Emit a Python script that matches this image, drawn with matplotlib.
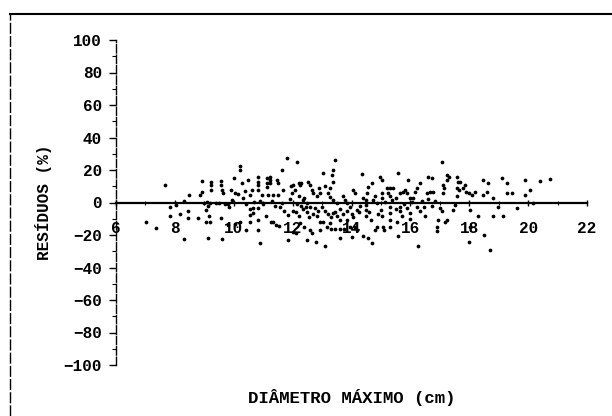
import matplotlib
matplotlib.use("Agg")
import matplotlib.pyplot as plt
from matplotlib.font_manager import FontProperties
from matplotlib.lines import Line2D
from matplotlib.ticker import MultipleLocator

# Maximum diameter (cm) and percentage residuals
diametro = [
    7.01, 7.37, 7.66, 7.83, 7.83, 8.05, 8.17, 8.30, 8.30, 8.46, 8.46, 8.47, 8.84, 8.79,
    8.92, 8.92, 9.00, 9.10, 9.20, 9.07, 9.11, 9.11, 9.15, 9.07, 9.18, 9.24, 9.24, 9.24,
    9.41, 9.50, 9.57, 9.57, 9.60, 9.63, 9.60, 9.70, 9.57, 9.90, 9.95, 9.80, 9.85,
    10.21, 10.21, 10.27, 10.04, 10.15, 10.38, 10.49, 10.55, 10.61, 10.55, 10.55, 10.55,
    10.66, 10.66, 10.83, 10.83, 10.83, 10.83, 10.83, 10.83, 10.83, 10.89, 10.95, 11.12,
    11.12, 11.12, 11.17, 11.34, 11.23, 11.23, 11.23, 11.28, 11.34, 11.46, 11.51, 11.51,
    11.63, 11.68, 11.57, 11.63, 11.80, 11.85, 12.14, 11.85, 11.97, 12.08, 12.20, 12.25,
    12.30, 12.36, 12.48, 12.14, 12.30, 12.45, 12.60, 12.75, 12.25, 12.40, 12.60, 12.53,
    12.59, 12.65, 12.65, 12.70, 12.82, 12.93, 12.82, 12.93, 13.04, 13.16, 13.10, 13.27,
    13.33, 13.38, 13.38, 13.44, 13.27, 13.38, 13.50, 13.38, 13.50, 13.61, 13.27, 13.04,
    12.93, 13.72, 13.78, 13.84, 13.95, 13.61, 13.84, 13.95,
    14.35, 14.06, 14.12, 14.18, 14.12, 14.18, 14.40, 14.52, 14.57, 14.50, 14.50, 14.50,
    14.50, 14.69, 14.74, 14.86, 14.69, 14.80, 14.86, 14.97, 15.03, 15.03, 15.03, 15.00,
    15.05, 15.08, 15.10, 15.20, 15.30, 15.40, 15.25, 15.31, 15.37, 15.31, 15.31, 15.31,
    15.31, 15.59, 15.65, 15.75, 15.82, 15.65, 15.65, 15.70, 15.59, 15.93, 15.88, 15.99,
    15.88, 15.99, 16.27, 16.16, 16.22, 16.33, 16.22, 16.33, 16.60, 16.73, 16.56, 16.67,
    16.78, 16.90, 16.95, 16.90, 17.01, 17.07, 17.07, 17.24, 17.18, 17.24, 17.30, 17.24,
    17.10, 17.15, 17.10, 17.58, 17.63, 17.58, 17.65, 17.70, 17.86, 17.80, 17.90, 18.00,
    18.10, 17.58, 17.46, 17.52, 18.03, 18.03, 17.98,
    18.48, 18.65, 18.20, 18.48, 18.60, 18.80, 18.31, 18.51, 18.69, 18.82, 19.14, 18.99,
    19.11, 19.28, 19.28, 19.45, 19.62, 19.90, 19.90, 20.07, 20.41, 20.73, 20.18,
    12.00, 12.10, 12.20, 12.35, 12.50, 12.55, 12.70, 12.85, 13.00, 13.10, 13.20, 13.30,
    13.45, 13.60, 13.70, 13.85, 14.00, 14.05, 14.25, 14.30, 14.40, 14.60, 14.65, 14.80,
    14.90, 15.15, 15.50, 15.50, 15.55, 15.80, 16.00, 16.05, 16.10, 16.40, 16.45, 16.50,
    16.60, 16.75, 16.85, 13.10, 13.20, 12.90, 12.40, 12.20, 11.90, 11.70, 11.40, 11.30,
    11.00, 11.10, 10.90, 10.70, 10.30, 10.40, 11.45, 11.55, 12.00, 12.10, 12.50, 12.80,
    13.30, 13.45, 13.60, 13.75, 14.00, 14.55, 10.20, 10.40, 10.00, 10.05, 9.80, 11.95,
    12.00,
]
residuos = [
    -11.7, -15.4, 10.9, -2.8, -8.6, -1.4, -7.2, 1.2, -22.3, -5.1, -9.6, 4.7, 4.7, -9.6,
    13.5, 6.2, 0.0, 0.5, -0.3, -4.5, -2.0, -21.9, -8.0, -12.3, -12.3, 12.9, 10.9, 7.5,
    -0.5, -0.5, 13.0, 10.5, 8.0, 6.0, -22.5, -1.0, -9.6, 7.8, 1.5, -1.2, -3.0,
    22.6, 19.7, 11.9, 6.0, 5.5, 6.8, 13.9, 4.7, 7.8, -4.0, -7.6, -11.7,
    -3.5, -6.6, 16.0, 12.9, 10.9, 7.8, -3.5, -10.7, -16.8, -25.0, 4.7, 15.0,
    11.9, 9.8, 4.7, 4.7, 16.0, 14.0, 11.9, -11.7, -11.7, 13.9, 11.9, 4.7,
    20.1, 7.8, -2.5, -0.4, 27.5, -23.0, 25.2, -7.6, 5.7, 7.8, 11.9, 10.9,
    11.9, 1.6, -0.4, -1.0, -2.0, -3.0, -2.5, -3.5, -12.7, -14.8, -16.8, 12.9,
    10.9, 7.8, -18.9, 5.7, 3.7, 5.7, -8.6, -11.7, 18.0, -14.8, -27.0, 8.8,
    17.0, 12.9, 20.1, 26.2, 3.5, 1.5, -0.4, -6.6, -8.6, -10.7, -12.7, -11.7,
    -16.8, 3.7, 1.6, -0.4, -2.5, -22.0, -10.7, -14.8,
    17.6, 7.8, 5.7, -4.5, -14.8, -16.8, -20.9, 5.7, 9.8, 1.6, -1.4, -4.5,
    -8.6, 11.9, 1.6, -0.4, -25.0, -16.8, -14.8, 16.0, 14.0, 5.7, 2.7, -4.5,
    -8.6, -14.8, -16.8, 8.8, 8.8, 8.8, 5.7, 3.7, 1.6, -2.5, -6.6, -10.7,
    -14.8, 18.0, 5.7, 6.7, 7.8, -2.5, -5.5, -8.6, -20.9, 13.9, 5.7, 2.7,
    -3.5, -6.6, -27.0, 6.7, 8.8, 11.9, -2.5, -5.5, 16.0, 15.0, 5.7, 6.7,
    6.7, -14.8, -10.7, -17.8, -3.5, -5.5, 25.2, -10.7, -11.7, 17.0, 16.0, 13.9,
    10.9, 8.8, 5.7, 16.0, 12.9, 8.8, 7.8, 12.9, 10.9, 8.8, 6.7, 5.7,
    4.7, 3.7, -4.5, -1.4, -4.5, -14.8, -24.0,
    13.9, 11.9, 6.7, 4.7, 6.7, 2.7, -8.6, -19.9, -29.1, -8.0, -8.6, -2.5,
    15.0, 11.9, 5.7, 5.7, -3.5, 13.9, 4.7, 7.8, 13.5, 14.3, 0.0,
    -5.0, -6.0, -8.0, -4.0, -6.0, -9.0, -7.0, -5.0, -3.0, -5.0, -7.0, -9.0,
    -6.0, -4.0, -7.0, -5.0, -7.0, -9.0, -6.0, -2.0, 3.0, -6.0, -11.0, 4.0,
    -7.0, 0.5, 3.0, -4.0, -12.0, -1.0, -10.0, 0.5, 3.0, 1.0, -3.0, -8.0,
    2.0, -2.0, 1.0, 10.0, 6.0, 9.0, 3.0, 4.0, 2.0, -5.0, -2.0, 1.0,
    -1.0, -8.0, 1.0, 0.5, 2.5, -1.0, -14.0, -14.2, -18.0, -19.0, -23.0, -24.0,
    -16.0, -16.5, -16.3, -16.0, -21.0, -22.0, -12.0, -17.0, 15.0, -13.0, -14.0, 10.0,
    11.0,
]

x_ticks = [6, 8, 10, 12, 14, 16, 18, 20, 22]
y_ticks = [-100, -80, -60, -40, -20, 0, 20, 40, 60, 80, 100]

tick_font = FontProperties(family="Liberation Mono", weight="bold", size=11.5)
ylab_font = FontProperties(family="Liberation Mono", weight="bold", size=11.5)
xlab_font = FontProperties(family="Liberation Mono", weight="bold", size=12.5)

fig = plt.figure(figsize=(6.12, 4.16), dpi=100)
ax = fig.add_axes([116 / 612, 1 - 365 / 416, 471 / 612, 325 / 416])

ax.plot(diametro, residuos, linestyle="none", marker="o", markersize=2.7,
        color="black", markeredgewidth=0)

ax.set_xlim(6, 22)
ax.set_ylim(-100, 100)

for side in ("top", "right"):
    ax.spines[side].set_visible(False)
ax.spines["bottom"].set_position(("data", 0))
ax.spines["bottom"].set_linewidth(1.6)
ax.spines["left"].set_linewidth(1.0)
ax.spines["left"].set_linestyle((0, (6, 1.5)))

ax.set_xticks(x_ticks)
ax.set_yticks(y_ticks)
ax.xaxis.set_minor_locator(MultipleLocator(1))
ax.yaxis.set_minor_locator(MultipleLocator(10))
ax.tick_params(axis="x", which="major", direction="inout", length=5, width=1, pad=11)
ax.tick_params(axis="x", which="minor", direction="inout", length=3, width=0.8)
ax.tick_params(axis="y", which="major", direction="out", length=5, width=1, pad=5)
ax.tick_params(axis="y", which="minor", direction="out", length=3, width=0.8)

for lab in ax.get_xticklabels() + ax.get_yticklabels():
    lab.set_fontproperties(tick_font)

ax.set_ylabel("RESÍDUOS (%)", fontproperties=ylab_font, labelpad=8)
fig.text(351.5 / 612, 1 - 397 / 416, "DIÂMETRO MÁXIMO (cm)", ha="center",
         va="center", fontproperties=xlab_font)

# frame lines along the top and left edges of the page
fig.add_artist(Line2D([9.5 / 612, 1.0], [1 - 13.5 / 416] * 2, color="black",
                      linewidth=1.5, transform=fig.transFigure))
fig.add_artist(Line2D([9.5 / 612] * 2, [0.0, 1 - 13.5 / 416], color="black",
                      linewidth=1.0, linestyle=(0, (8, 1.5)),
                      transform=fig.transFigure))

fig.savefig("out.png", dpi=100)
